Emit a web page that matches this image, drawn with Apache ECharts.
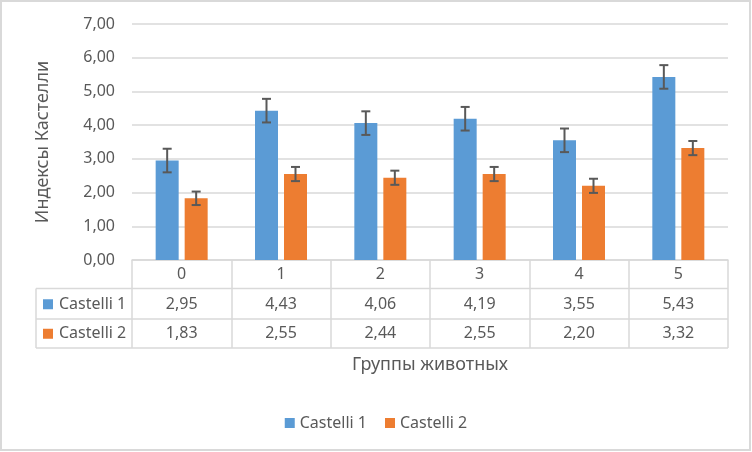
<!DOCTYPE html>
<html><head><meta charset="utf-8">
<script src="https://cdn.jsdelivr.net/npm/echarts@6/dist/echarts.min.js"></script>
<style>html,body{margin:0;padding:0;background:#fff}#c{width:752px;height:452px}</style>
</head><body><div id="c"></div>
<script>
const categories = ['0', '1', '2', '3', '4', '5'];
const seriesNames = ['Castelli 1', 'Castelli 2'];
const castelli1 = [2.95, 4.43, 4.06, 4.19, 3.55, 5.43];
const castelli2 = [1.83, 2.55, 2.44, 2.55, 2.20, 3.32];
const err1 = [0.35, 0.35, 0.35, 0.35, 0.35, 0.35];
const err2 = [0.20, 0.21, 0.21, 0.21, 0.21, 0.21];
const yMin = 0, yMax = 7, yStep = 1;

const FONT = 'Noto Sans';
const TXT = '#595959';
const LINE = '#d9d9d9';
const C1 = '#5B9BD5', C2 = '#ED7D31';
const GL = 132, GR = 24, GT = 24, GB = 192, W = 752, H = 452;
const axisY = H - GB, rightX = W - GR;
const ROW = 29.5, TABLE_LEFT = 36;
const BAR_W = 23, GAP = 6;

const fmt = v => v.toFixed(2).replace('.', ',');

function errSeries(vals, errs, sign) {
  return {
    type: 'custom',
    silent: true,
    z: 5,
    data: vals.map((v, i) => [i, v - errs[i], v + errs[i]]),
    encode: { x: 0, y: [1, 2] },
    renderItem: function (params, api) {
      const i = api.value(0);
      const lo = api.coord([i, api.value(1)]);
      const hi = api.coord([i, api.value(2)]);
      const x = lo[0] + sign * (BAR_W + GAP) / 2;
      const hw = 4.5;
      const st = { stroke: '#595959', lineWidth: 2 };
      return {
        type: 'group',
        children: [
          { type: 'line', shape: { x1: x, y1: lo[1], x2: x, y2: hi[1] }, style: st },
          { type: 'line', shape: { x1: x - hw, y1: lo[1], x2: x + hw, y2: lo[1] }, style: st },
          { type: 'line', shape: { x1: x - hw, y1: hi[1], x2: x + hw, y2: hi[1] }, style: st }
        ]
      };
    }
  };
}

const tableGraphics = [
  { type: 'rect', shape: { x: 1, y: 1, width: W - 3, height: H - 3 }, style: { fill: 'none', stroke: LINE, lineWidth: 2 }, silent: true },
  { type: 'line', shape: { x1: TABLE_LEFT, y1: axisY + ROW - 1, x2: rightX, y2: axisY + ROW - 1 }, style: { stroke: LINE, lineWidth: 1.5 } },
  { type: 'line', shape: { x1: TABLE_LEFT, y1: axisY + 2 * ROW, x2: rightX, y2: axisY + 2 * ROW }, style: { stroke: LINE, lineWidth: 1.5 } },
  { type: 'line', shape: { x1: TABLE_LEFT, y1: axisY + 3 * ROW - 0.5, x2: rightX, y2: axisY + 3 * ROW - 0.5 }, style: { stroke: LINE, lineWidth: 1.5 } },
  { type: 'line', shape: { x1: TABLE_LEFT, y1: axisY + ROW - 1, x2: TABLE_LEFT, y2: axisY + 3 * ROW - 0.5 }, style: { stroke: LINE, lineWidth: 1.5 } }
];
[C1, C2].forEach((col, k) => {
  const cy = axisY + ROW * (k + 1.5);
  tableGraphics.push({ type: 'rect', shape: { x: 43, y: cy - 5, width: 10, height: 10 }, style: { fill: col } });
  tableGraphics.push({ type: 'text', x: 59, y: cy, style: { text: seriesNames[k], fill: TXT, font: '16px "' + FONT + '"', verticalAlign: 'middle', align: 'left' } });
});

const chart = echarts.init(document.getElementById('c'), null, { renderer: 'canvas' });
chart.setOption({
  animation: false,
  backgroundColor: '#fff',
  textStyle: { fontFamily: FONT, color: TXT },
  grid: { left: GL, right: GR, top: GT, bottom: GB, containLabel: false },
  legend: {
    data: seriesNames,
    top: 410, left: 'center',
    icon: 'rect', itemWidth: 10, itemHeight: 10, itemGap: 18,
    textStyle: { fontFamily: FONT, fontSize: 16, color: TXT }
  },
  xAxis: {
    type: 'category',
    data: categories,
    name: 'Группы животных',
    nameLocation: 'middle',
    nameGap: 96,
    nameTextStyle: { fontFamily: FONT, fontSize: 18, color: TXT },
    axisLine: { lineStyle: { color: LINE, width: 1.5 } },
    axisTick: { show: true, length: 3 * ROW - 0.5, interval: 0, lineStyle: { color: LINE, width: 1.5 } },
    axisLabel: {
      interval: 0,
      margin: 0,
      formatter: function (v, i) {
        return '{h|' + v + '}\n{v|' + fmt(castelli1[i]) + '}\n{v|' + fmt(castelli2[i]) + '}';
      },
      rich: {
        h: { fontFamily: FONT, fontSize: 16, color: TXT, lineHeight: ROW, align: 'center' },
        v: { fontFamily: FONT, fontSize: 16, color: TXT, lineHeight: ROW, align: 'center' }
      }
    }
  },
  yAxis: {
    type: 'value',
    min: yMin, max: yMax, interval: yStep,
    name: 'Индексы Кастелли',
    nameLocation: 'middle',
    nameGap: 80,
    nameRotate: 90,
    nameTextStyle: { fontFamily: FONT, fontSize: 18, color: TXT },
    axisLine: { show: false },
    axisTick: { show: false },
    axisLabel: { formatter: v => fmt(v), fontFamily: FONT, fontSize: 16, color: TXT, margin: 17 },
    splitLine: { lineStyle: { color: LINE, width: 1.5 } }
  },
  series: [
    { name: seriesNames[0], type: 'bar', data: castelli1, barWidth: BAR_W, barGap: (GAP / BAR_W * 100) + '%', itemStyle: { color: C1 } },
    { name: seriesNames[1], type: 'bar', data: castelli2, barWidth: BAR_W, barGap: (GAP / BAR_W * 100) + '%', itemStyle: { color: C2 } },
    errSeries(castelli1, err1, -1),
    errSeries(castelli2, err2, 1)
  ],
  graphic: tableGraphics
});
</script></body></html>
